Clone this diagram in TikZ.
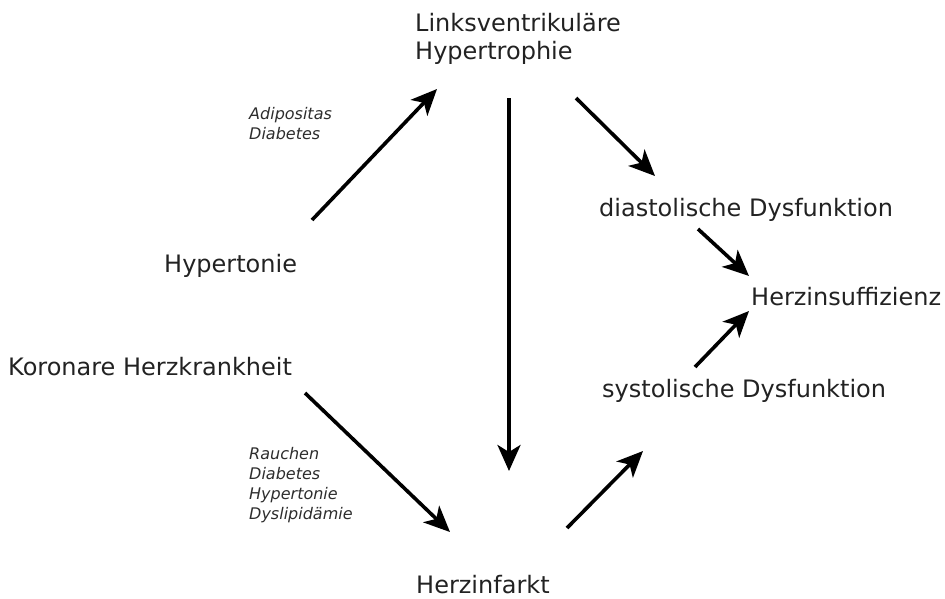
\documentclass[tikz,border=0pt]{standalone}
\usepackage{fontspec}
\setmainfont{DejaVu Sans}
\usepackage{tikz}
\usetikzlibrary{arrows.meta, calc}
\definecolor{textcolor}{RGB}{34, 34, 34}
\definecolor{notecolor}{RGB}{45, 45, 45}

\begin{document}
\begin{tikzpicture}[
    x=1pt, y=-1pt,
    entity/.style={anchor=base west, inner sep=0pt, text=textcolor, font=\fontsize{24}{28}\selectfont, align=left},
    factor/.style={anchor=base west, inner sep=0pt, text=notecolor, font=\fontsize{16}{20}\selectfont\itshape, align=left},
    arrow/.style={-{Stealth[length=26pt, width=23pt, inset=7pt]}, line width=3.6pt}
]
    \useasboundingbox (0,0) rectangle (945,598);

    % Main entities
    \node[entity, anchor=north west] (hypertrophie) at (415,13) {Linksventrikuläre\\Hypertrophie};
    \node[entity] (hypertonie) at (164,272) {Hypertonie};
    \node[entity] (khk) at (8,375) {Koronare Herzkrankheit};
    \node[entity] (infarkt) at (416,593) {Herzinfarkt};
    \node[entity] (diastole) at (599,216) {diastolische Dysfunktion};
    \node[entity] (insuffizienz) at (751,305) {Herzinsuffizienz};
    \node[entity] (systole) at (602,397) {systolische Dysfunktion};

    % Risk factors (base = last line)
    \node[factor] (adipositas) at (249,139) {Adipositas\\Diabetes};
    \node[factor] (risiko) at (249,519) {Rauchen\\Diabetes\\Hypertonie\\Dyslipidämie};

    % Relationships
    \draw[arrow] ($(hypertonie.base west)+(148,-52)$) -- ($(hypertrophie.north west)+(22,76)$);
    \draw[arrow] ($(hypertrophie.north west)+(94,85)$) -- ($(infarkt.base west)+(93,-122)$);
    \draw[arrow] ($(hypertrophie.north west)+(161,85)$) -- ($(diastole.base west)+(56,-40)$);
    \draw[arrow] ($(diastole.base west)+(99,13)$) -- ($(insuffizienz.base west)+(-2,-29)$);
    \draw[arrow] ($(systole.base west)+(93,-30)$) -- ($(insuffizienz.base west)+(-2,6)$);
    \draw[arrow] ($(khk.base west)+(297,18)$) -- ($(infarkt.base west)+(34,-61)$);
    \draw[arrow] ($(infarkt.base west)+(151,-65)$) -- ($(systole.base west)+(41,54)$);

\end{tikzpicture}
\end{document}
